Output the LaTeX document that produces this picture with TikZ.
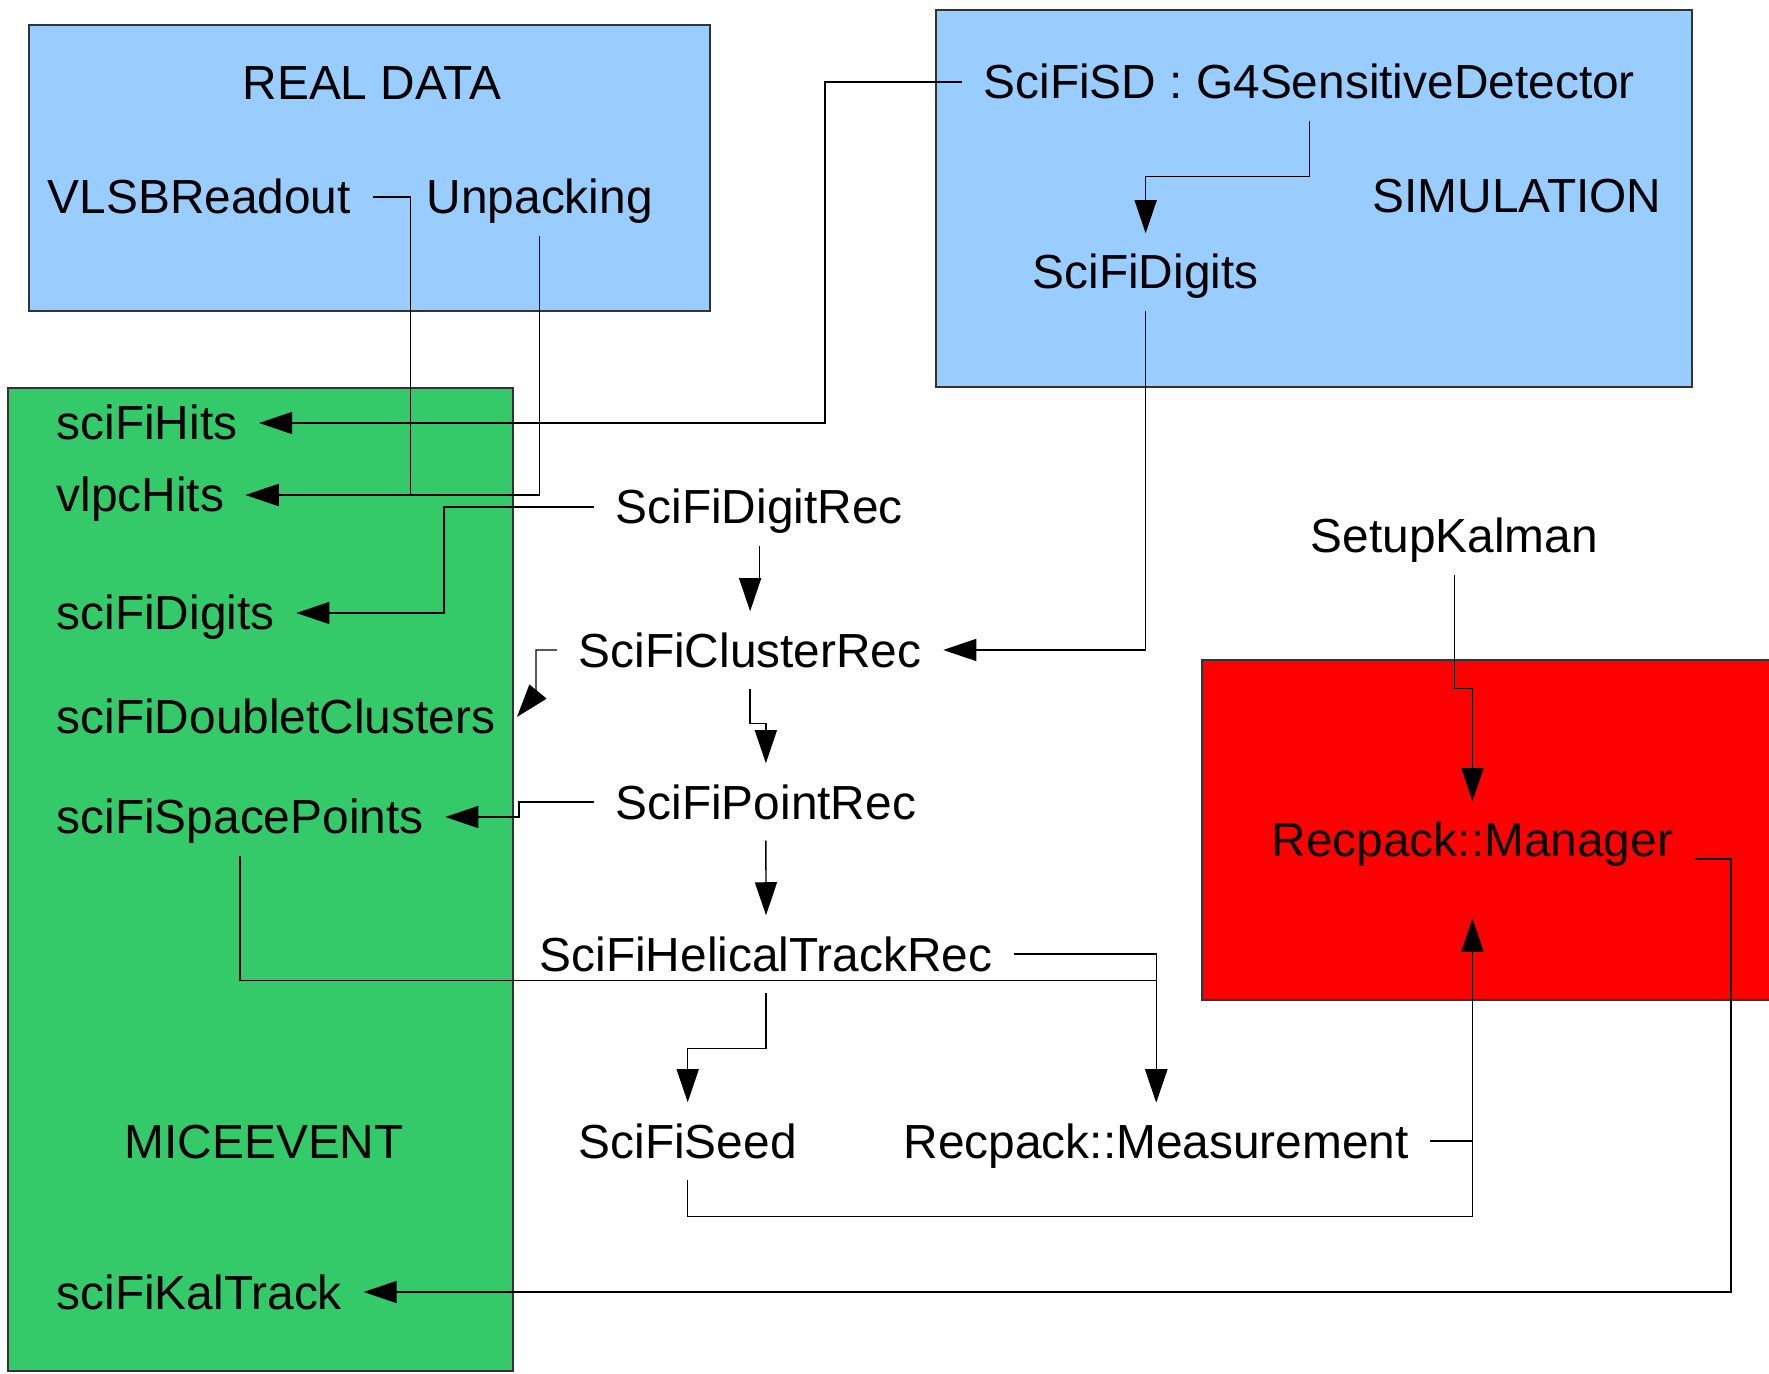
\documentclass[tikz,border=0pt]{standalone}
\usepackage{fontspec}
\setmainfont{Liberation Sans}
\usetikzlibrary{arrows.meta,calc}
\definecolor{simblue}{RGB}{153,204,255}
\definecolor{evgreen}{RGB}{52,202,106}
\definecolor{kalred}{RGB}{255,0,0}

\begin{document}
\begin{tikzpicture}[x=0.01cm,y=-0.01cm,>={Triangle[length=3.3mm,width=2.2mm]},
  lbl/.style={anchor=west,inner sep=0.21cm,text height=0.34cm,text depth=0pt,
    font=\fontsize{13.6}{16}\selectfont},
  box/.style={draw=black!80,line width=0.4pt},
  link/.style={->,line width=0.4pt}]
 \useasboundingbox (0,0) rectangle (1769,1374);
 \filldraw[box,fill=simblue] (29,25) rectangle (710,311);
 \filldraw[box,fill=simblue] (936,10) rectangle (1692,387);
 \filldraw[box,fill=evgreen] (8,388) rectangle (513,1371);
 \filldraw[box,fill=kalred] (1202,660) rectangle (1775,1000);

 \node[lbl,anchor=center] (realdata) at (372,83) {REAL DATA};
 \node[lbl] (vlsb) at (26,197) {VLSBReadout};
 \node[lbl] (unpack) at (405,197) {Unpacking};
 \node[lbl] (scifisd) at (962,82) {SciFiSD : G4SensitiveDetector};
 \node[lbl] (simulation) at (1351,196) {SIMULATION};
 \node[lbl] (simdigits) at (1011,272) {SciFiDigits};
 \node[lbl] (hits) at (35,423) {sciFiHits};
 \node[lbl] (vlpc) at (35,495) {vlpcHits};
 \node[lbl] (digits) at (35,613) {sciFiDigits};
 \node[lbl] (doublet) at (35,717) {sciFiDoubletClusters};
 \node[lbl] (space) at (35,817) {sciFiSpacePoints};
 \node[lbl] (miceevent) at (103,1141) {MICEEVENT};
 \node[lbl] (kaltrack) at (35,1292) {sciFiKalTrack};
 \node[lbl] (digitrec) at (594,507) {SciFiDigitRec};
 \node[lbl] (clusterrec) at (557,650) {SciFiClusterRec};
 \node[lbl] (pointrec) at (594,802) {SciFiPointRec};
 \node[lbl] (helical) at (518,954) {SciFiHelicalTrackRec};
 \node[lbl] (setup) at (1289,536) {SetupKalman};
 \node[lbl] (manager) at (1250,840) {Recpack::Manager};
 \node[lbl] (seed) at (557,1141) {SciFiSeed};
 \node[lbl] (measure) at (882,1141) {Recpack::Measurement};

 \draw[link] (vlsb.east) -- ++(38,0) |- (vlpc.east);
 \draw[link] (unpack.south) |- (vlpc.east);
 \draw[link] (scifisd.west) -- ++(-137,0) |- (hits.east);
 \draw[link] (scifisd.south) -- ++(0,56) -| (simdigits.north);
 \draw[link] (simdigits.south) |- (clusterrec.east);
 \draw[link] (digitrec.west) -- ++(-150,0) |- (digits.east);
 \draw[link] (digitrec.south) -- ++(0,34) -| (clusterrec.north);
 \draw[link] (clusterrec.west) -- ++(-21,0) -- ++(0,44) -- (doublet.east);
 \draw[link] (clusterrec.south) -- ++(0,35) -| (pointrec.north);
 \draw[link] (pointrec.west) -- ++(-75,0) |- (space.east);
 \draw[link] (pointrec.south) -- (helical.north);
 \draw[link] (space.south) -- ++(0,125) -| (measure.north);
 \draw[link] (helical.east) -| (measure.north);
 \draw[link] (helical.south) -- ++(0,56) -| (seed.north);
 \draw[link] (measure.east) -| ($(manager.south)+(0,40)$);
 \draw[link] (seed.south) -- ++(0,37) -| ($(manager.south)+(0,40)$);
 \draw[link] (setup.south) -- ++(0,114) -| (manager.north);
 \draw[link] ($(manager.east)+(0,19)$) -- ++(36,0) |- (kaltrack.east);
\end{tikzpicture}
\end{document}
